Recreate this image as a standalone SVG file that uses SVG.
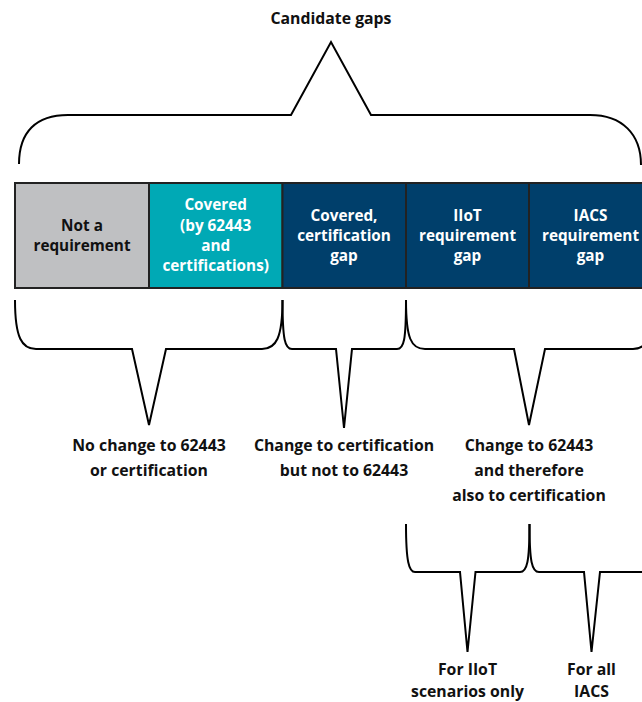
<svg xmlns="http://www.w3.org/2000/svg" width="642" height="702" viewBox="0 0 642 702">
<style>
text{font-family:"Open Sans","Noto Sans","Liberation Sans",sans-serif;font-weight:bold;text-anchor:middle}
.lbl{font-size:15.8px;fill:#111}
.bx{font-size:15.3px}
.dk{fill:#fff}
.br{fill:none;stroke:#000;stroke-width:2;stroke-linejoin:miter}
.box{stroke:#222;stroke-width:2}
</style>
<rect width="642" height="702" fill="#fff"/>
<text class="lbl" x="331" y="24">Candidate gaps</text>
<g id="connectors">
<path class="br" d="M19,164 C19,132 36,115 68,115 L291,115 L331,42 L371,115 L590,115 C622,115 641,134 641,165"/>
<path class="br" d="M15,300 C15,338 22,349 36,349 L132,349 L149,425 L166,349 L262,349 C276,349 282.5,338 282.5,300"/>
<path class="br" d="M282.5,300 C282.5,340 285,349 292,349 L336,349 L344,428 L352,349 L397,349 C404,349 406,340 406,300"/>
<path class="br" d="M406,300 C406,338 411,349 425,349 L514,349 L529,425 L545,349 L633,349 C647,349 652,338 652,300"/>
<path class="br" d="M406,524 C406,562 409,572 415,572 L460,572 L467.5,652 L475.5,572 L520,572 C527,572 529.5,562 529.5,524"/>
<path class="br" d="M529.5,524 C529.5,562 532,572 539,572 L584,572 L591.5,652 L600,572 L648,572 C655,572 657,562 657,524"/>
</g>
<g id="box-not-req">
<rect class="box" x="15" y="183" width="134" height="105" fill="#bfc0c2"/>
<text class="bx" x="82" y="231" fill="#111">Not a</text>
<text class="bx" x="82" y="251" fill="#111">requirement</text>
</g>
<g id="box-covered">
<rect class="box" x="149" y="183" width="133.5" height="105" fill="#00a9b5"/>
<text class="bx dk" x="215.7" y="210">Covered</text>
<text class="bx dk" x="215.7" y="230.5">(by 62443</text>
<text class="bx dk" x="215.7" y="251">and</text>
<text class="bx dk" x="215.7" y="271">certifications)</text>
</g>
<g id="box-cert-gap">
<rect class="box" x="282.5" y="183" width="123.5" height="105" fill="#003f6b" stroke="#000"/>
<text class="bx dk" x="344" y="220.5">Covered,</text>
<text class="bx dk" x="344" y="240.5">certification</text>
<text class="bx dk" x="344" y="260.5">gap</text>
</g>
<g id="box-iiot-gap">
<rect class="box" x="406" y="183" width="123" height="105" fill="#003f6b" stroke="#000"/>
<text class="bx dk" x="467.5" y="220.5">IIoT</text>
<text class="bx dk" x="467.5" y="240.5">requirement</text>
<text class="bx dk" x="467.5" y="260.5">gap</text>
</g>
<g id="box-iacs-gap">
<rect class="box" x="529" y="183" width="123" height="105" fill="#003f6b" stroke="#000"/>
<text class="bx dk" x="590.5" y="220.5">IACS</text>
<text class="bx dk" x="590.5" y="240.5">requirement</text>
<text class="bx dk" x="590.5" y="260.5">gap</text>
</g>
<g id="label-no-change">
<text class="lbl" x="149" y="451">No change to 62443</text>
<text class="lbl" x="149" y="476">or certification</text>
</g>
<g id="label-cert-change">
<text class="lbl" x="344" y="451">Change to certification</text>
<text class="lbl" x="344" y="476">but not to 62443</text>
</g>
<g id="label-62443-change">
<text class="lbl" x="529" y="451">Change to 62443</text>
<text class="lbl" x="529" y="476">and therefore</text>
<text class="lbl" x="529" y="501">also to certification</text>
</g>
<g id="label-iiot">
<text class="lbl" x="467.5" y="675">For IIoT</text>
<text class="lbl" x="467.5" y="697">scenarios only</text>
</g>
<g id="label-iacs">
<text class="lbl" x="591.5" y="675">For all</text>
<text class="lbl" x="591.5" y="697">IACS</text>
</g>
</svg>
